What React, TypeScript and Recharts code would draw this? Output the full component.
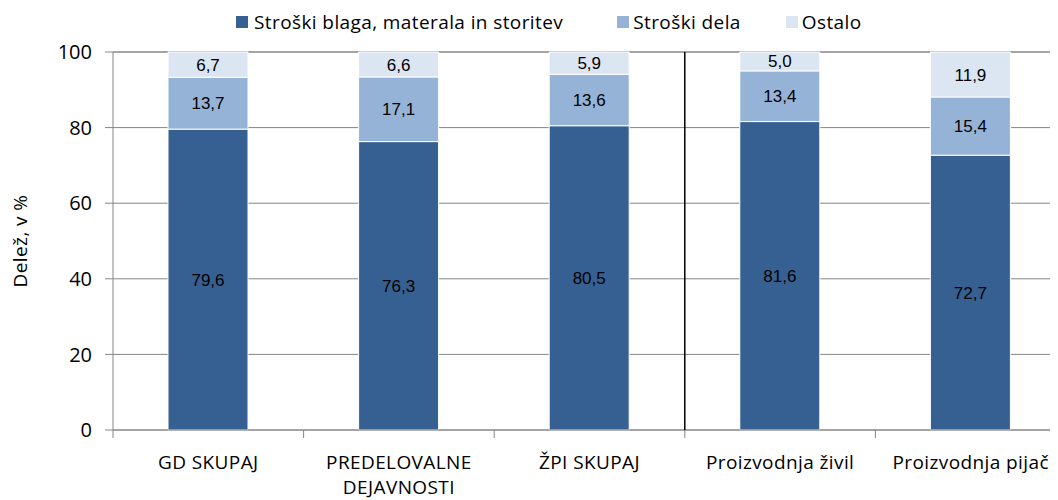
import React from "react";
import {
  BarChart,
  Bar,
  XAxis,
  YAxis,
  CartesianGrid,
  Legend,
  LabelList,
} from "recharts";

const categories = [
  "GD SKUPAJ",
  "PREDELOVALNE\nDEJAVNOSTI",
  "ŽPI SKUPAJ",
  "Proizvodnja živil",
  "Proizvodnja pijač",
];
const blago = [79.6, 76.3, 80.5, 81.6, 72.7];
const delo = [13.7, 17.1, 13.6, 13.4, 15.4];
const ostalo = [6.7, 6.6, 5.9, 5.0, 11.9];

const seriesNames = ["Stroški blaga, materala in storitev", "Stroški dela", "Ostalo"];
const seriesKeys = ["blago", "delo", "ostalo"];
const seriesColors = ["#376092", "#95B3D7", "#DCE6F2"];

const yTicks = [0, 20, 40, 60, 80, 100];

const data = categories.map((name, i) => ({
  name,
  blago: blago[i],
  delo: delo[i],
  ostalo: ostalo[i],
}));

const W = 1070;
const H = 492;
const M = { top: 20, right: 12, left: 0, bottom: 8 };
const Y_W = 105;
const X_H = 62;
const PLOT_W = W - M.left - M.right - Y_W;
const PLOT_H = 378;
const BAND = PLOT_W / categories.length;

const labelFont = "'Open Sans', sans-serif";
const numFont = "'Liberation Sans', Arial, sans-serif";

const fmt = (v: any) => Number(v).toFixed(1).replace(".", ",");

function CatTick(props: any) {
  const { x, y, payload, index } = props;
  const lines = String(payload.value).split("\n");
  return (
    <g>
      {index === 0 && (
        <line x1={x - BAND / 2} x2={x - BAND / 2} y1={y} y2={y + 8} stroke="#868686" />
      )}
      <line x1={x + BAND / 2} x2={x + BAND / 2} y1={y} y2={y + 8} stroke="#868686" />
      {index === 2 && (
        <line x1={x + BAND / 2} x2={x + BAND / 2} y1={y} y2={y - PLOT_H} stroke="#000" strokeWidth={1.5} />
      )}
      {lines.map((l, i) => (
        <text
          key={i}
          x={x}
          y={y + 39 + i * 25}
          textAnchor="middle"
          fontSize={19}
          letterSpacing={0.4}
          fontFamily={labelFont}
          fill="#000"
        >
          {l}
        </text>
      ))}
    </g>
  );
}

function LegendContent() {
  return (
    <div
      style={{
        display: "flex",
        alignItems: "center",
        fontFamily: labelFont,
        fontSize: 19,
        letterSpacing: 0.4,
        lineHeight: "24px",
        color: "#000",
        paddingLeft: 228,
      }}
    >
      {seriesNames.map((n, i) => (
        <div key={n} style={{ display: "flex", alignItems: "center", marginRight: i === 0 ? 54 : 45 }}>
          <span
            style={{
              display: "inline-block",
              width: 12,
              height: 12,
              background: seriesColors[i],
              marginRight: i === 0 ? 6 : 4,
            }}
          />
          <span>{n}</span>
        </div>
      ))}
    </div>
  );
}

export default function App() {
  return (
    <div style={{ width: 1050, height: H, overflow: "hidden" }}>
      <BarChart width={W} height={H} data={data} margin={M} barSize={80}>
        <CartesianGrid vertical={false} stroke="#868686" />
        <XAxis
          dataKey="name"
          height={X_H}
          interval={0}
          tickLine={false}
          tickSize={0}
          tickMargin={0}
          tick={<CatTick />}
          axisLine={{ stroke: "#868686" }}
        />
        <YAxis
          width={Y_W}
          domain={[0, 100]}
          ticks={yTicks}
          interval={0}
          tickSize={8}
          tickMargin={13}
          axisLine={{ stroke: "#868686" }}
          tickLine={{ stroke: "#868686" }}
          tick={{ fontSize: 20, fontFamily: labelFont, fill: "#000" }}
          label={{
            value: "Delež, v %",
            angle: -90,
            position: "insideLeft",
            offset: 12,
            style: { fontSize: 19, letterSpacing: 0.4, fontFamily: labelFont, fill: "#000", textAnchor: "middle" },
          }}
        />
        <Legend verticalAlign="top" wrapperStyle={{ top: 2, left: 0 }} content={<LegendContent />} />
        {seriesKeys.map((k, i) => (
          <Bar
            key={k}
            dataKey={k}
            name={seriesNames[i]}
            stackId="a"
            fill={seriesColors[i]}
            stroke="#fff"
            strokeWidth={1}
            isAnimationActive={false}
          >
            <LabelList
              dataKey={k}
              position="center"
              formatter={fmt}
              style={{ fontSize: 17, fontFamily: numFont, fill: "#000" }}
            />
          </Bar>
        ))}
      </BarChart>
    </div>
  );
}
